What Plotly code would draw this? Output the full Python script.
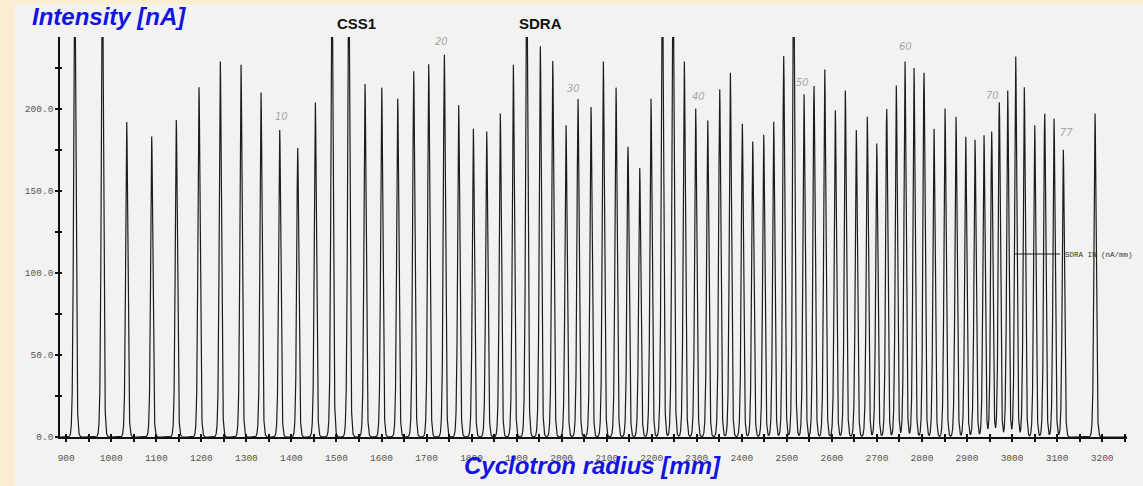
import numpy as np
import plotly.graph_objects as go

# ---------------- data ----------------
# peak centres (cyclotron radius, mm) and peak heights (nA); peaks that run off the top are clipped (estimated 300)
peak_radius_mm = [918.9, 980.2, 1034.3, 1089.8, 1144.4, 1194.8, 1242.1, 1288.1, 1332.5, 1374.0,
                  1414.0, 1453.1, 1490.1, 1527.2, 1563.4, 1600.5, 1636.0, 1671.5, 1704.8, 1739.5,
                  1771.4, 1803.9, 1833.6, 1863.8, 1892.7, 1922.4, 1952.6, 1980.2, 2009.7, 2036.3,
                  2065.2, 2092.5, 2120.7, 2147.3, 2173.3, 2198.4, 2223.5, 2247.2, 2272.3, 2297.6,
                  2324.3, 2350.9, 2374.5, 2401.1, 2424.2, 2448.6, 2470.8, 2493.0, 2515.2, 2538.1,
                  2560.3, 2584.1, 2607.6, 2629.8, 2654.2, 2678.6, 2699.5, 2721.7, 2743.0, 2762.3,
                  2782.3, 2804.5, 2826.7, 2851.2, 2875.6, 2897.1, 2917.8, 2937.7, 2954.8, 2971.7,
                  2990.4, 3008.1, 3027.2, 3050.3, 3072.5, 3093.2, 3113.8, 3184.2]
peak_intensity_nA = [300, 300, 192, 183, 193, 213, 229, 227, 210, 187,
                     176, 204, 300, 300, 215, 213, 206, 223, 227, 233,
                     202, 188, 186, 197, 227, 300, 238, 229, 190, 206,
                     201, 229, 213, 177, 164, 206, 300, 300, 229, 200,
                     193, 212, 222, 191, 180, 184, 192, 232, 300, 209,
                     214, 224, 199, 211, 187, 195, 179, 200, 214, 229,
                     225, 222, 188, 200, 195, 183, 181, 184, 186, 204,
                     211, 232, 213, 190, 197, 194, 175, 197]
turn_marks = [10, 20, 30, 40, 50, 60, 70, 77]          # hand-written turn numbers
x_tick_values = list(range(900, 3201, 100))
y_tick_values = [0, 50, 100, 150, 200]
probe_labels = ["CSS1", "SDRA"]
probe_label_radius = [1545, 1952]
series_name = "SDRA IN (nA/mm)"

# ---------------- probe trace (peak profile) ----------------
PEAK_WIDTH = 3.0  # mm, profile width of a single turn
r = np.arange(886.0, 3256.0, 0.2)
signal = np.zeros_like(r)
for c, h in zip(peak_radius_mm, peak_intensity_nA):
    signal += h / np.cosh((r - c) / PEAK_WIDTH) ** 2

X_RANGE = [886.2, 3255.2]
Y_RANGE = [0, 243.6]

fig = go.Figure()
fig.add_trace(go.Scatter(x=r, y=signal, mode="lines", name=series_name,
                         line=dict(color="#1c1c1c", width=1.2),
                         hoverinfo="skip"))
# helper trace for the second (overlay) axes that give crossing tick marks
fig.add_trace(go.Scatter(x=[], y=[], xaxis="x2", yaxis="y2", showlegend=False, hoverinfo="skip"))

BLUE = "#1414e0"
TICKFONT = dict(family="Liberation Mono", size=9.5, color="#555555")

annotations = [
    dict(text="<b><i>Intensity [nA]</i></b>", xref="paper", yref="paper",
         x=-0.0281, y=1.05, xanchor="left", yanchor="middle", showarrow=False,
         font=dict(family="Liberation Sans", size=24, color=BLUE)),
    dict(text="<b><i>Cyclotron radius [mm]</i></b>", xref="paper", yref="paper",
         x=0.4995, y=-0.07, xanchor="center", yanchor="middle", showarrow=False,
         font=dict(family="Liberation Sans", size=24, color=BLUE)),
]
for lbl, rx in zip(probe_labels, probe_label_radius):
    annotations.append(dict(text="<b>" + lbl + "</b>", xref="x", yref="paper",
                            x=rx, y=1.035, xanchor="center", yanchor="middle", showarrow=False,
                            font=dict(family="Liberation Sans", size=15, color="#111111")))

mark_shift = {10: (2, 13), 20: (-3, 13), 30: (-5, 10), 40: (3, 12),
              50: (-2, 11), 60: (0, 14), 70: (-7, 7), 77: (3, 17)}
for n in turn_marks:
    dx, dy = mark_shift[n]
    annotations.append(dict(text=str(n), x=peak_radius_mm[n - 1], y=peak_intensity_nA[n - 1],
                            xref="x", yref="y", xanchor="center", yanchor="middle",
                            xshift=dx, yshift=dy, showarrow=False,
                            font=dict(family="DejaVu Sans", size=10, color="#a8a8a8", style="italic")))

CREAM = "#fbedd2"
shapes = [
    dict(type="rect", xref="paper", yref="paper", x0=-0.0562, x1=-0.0422, y0=-0.2, y1=1.2,
         fillcolor=CREAM, line=dict(width=0), layer="below"),
    dict(type="rect", xref="paper", yref="paper", x0=-0.1, x1=1.1, y0=1.081, y1=1.2,
         fillcolor=CREAM, line=dict(width=0), layer="below"),
]

fig.update_layout(
    width=1143, height=486,
    margin=dict(l=60, r=16, t=37, b=49, pad=0, autoexpand=False),
    paper_bgcolor="#f2f2f0",
    plot_bgcolor="rgba(0,0,0,0)",
    showlegend=True,
    legend=dict(x=0.8904, y=0.4575, xanchor="left", yanchor="middle",
                itemwidth=45,
                bgcolor="rgba(0,0,0,0)", borderwidth=0,
                font=dict(family="Liberation Mono", size=7.5, color="#333333")),
    annotations=annotations,
    shapes=shapes,
    xaxis=dict(range=X_RANGE, showgrid=False, zeroline=False,
               showline=True, linecolor="#111111", linewidth=2,
               tickmode="array", tickvals=x_tick_values, ticktext=[str(v) for v in x_tick_values],
               ticks="outside", ticklen=3, tickwidth=1.5, tickcolor="#111111",
               ticklabelstandoff=8, tickfont=TICKFONT,
               minor=dict(dtick=50, tick0=900, ticks="outside", ticklen=3, tickwidth=1.5,
                          tickcolor="#111111", showgrid=False)),
    xaxis2=dict(range=X_RANGE, overlaying="x", anchor="y", side="bottom", showgrid=False,
                zeroline=False, showline=False, showticklabels=False,
                tickmode="linear", tick0=900, dtick=50,
                ticks="inside", ticklen=3, tickwidth=1.5, tickcolor="#111111"),
    yaxis=dict(range=Y_RANGE, showgrid=False, zeroline=False,
               showline=True, linecolor="#111111", linewidth=1.5,
               tickmode="array", tickvals=y_tick_values,
               ticktext=["%.1f" % v for v in y_tick_values],
               ticks="outside", ticklen=3, tickwidth=1.5, tickcolor="#111111",
               tickfont=TICKFONT,
               minor=dict(dtick=25, tick0=0, ticks="outside", ticklen=3, tickwidth=1.5,
                          tickcolor="#111111", showgrid=False)),
    yaxis2=dict(range=Y_RANGE, overlaying="y", anchor="x", side="left", showgrid=False,
                zeroline=False, showline=False, showticklabels=False,
                tickmode="linear", tick0=0, dtick=25,
                ticks="inside", ticklen=2, tickwidth=1.5, tickcolor="#111111"),
)

fig.write_html("out.html")
